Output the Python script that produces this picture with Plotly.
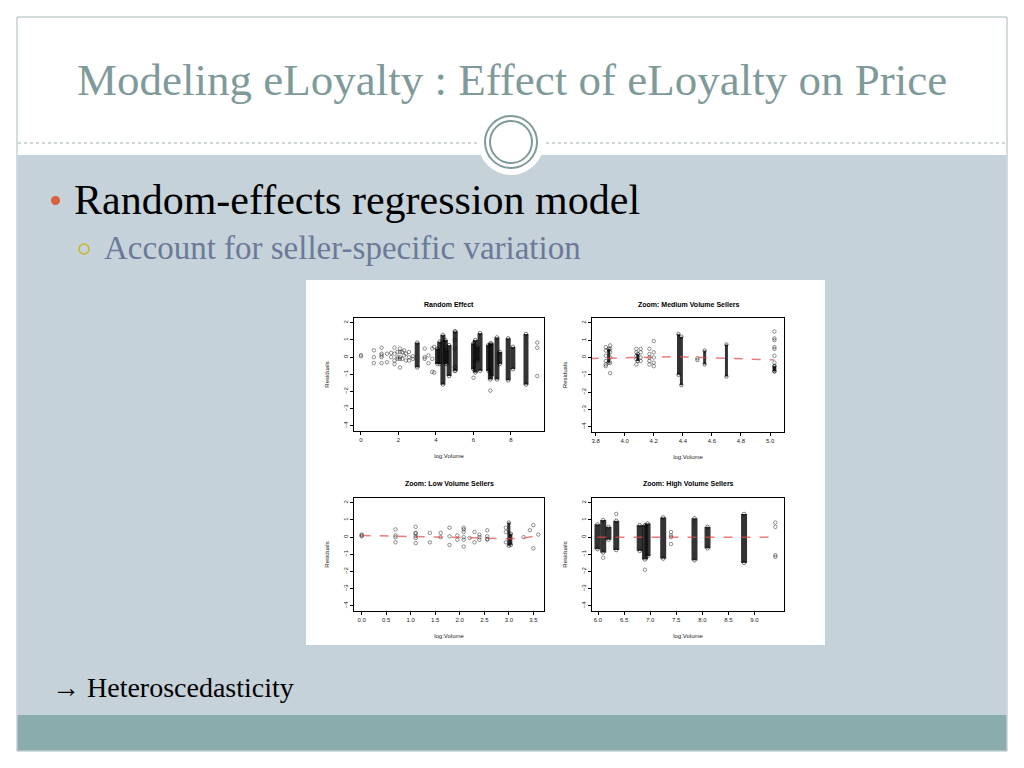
import plotly.graph_objects as go

# page body has an 8px margin; the figure covers the rest of the 1024x768 window
OFF = 8
W, H = 1024 - OFF, 768 - OFF

# ---------------- data ----------------
# Panel 1: Random Effect (all sellers)
p1_pts_x = [0.0, 0.0, 0.69, 0.69, 0.69, 1.1, 1.1, 1.1, 1.1, 1.1, 1.39, 1.39, 1.61, 1.61,
            1.79, 1.79, 1.79, 1.79, 1.95, 1.95, 1.95, 2.08, 2.08, 2.08, 2.08, 2.08,
            2.2, 2.2, 2.3, 2.3, 2.4, 2.4, 2.56, 2.56, 2.56, 2.77, 2.77, 3.4, 3.4, 3.4,
            3.6, 3.6, 3.8, 3.8, 3.8, 3.9, 3.9, 5.0, 5.0, 5.0, 5.0, 5.0, 6.0, 6.9,
            9.4, 9.4, 9.4]
p1_pts_y = [0.05, 0.12, 0.4, 0.0, -0.35, 0.55, 0.2, 0.1, 0.0, -0.35, 0.2, -0.3, 0.25, 0.0,
            0.55, 0.2, -0.2, -0.4, 0.3, 0.0, -0.1, 0.5, 0.3, 0.0, -0.1, -0.6,
            0.3, -0.1, 0.4, 0.1, 0.2, -0.2, 0.3, 0.0, -0.2, 0.05, -0.1, 0.5, 0.0, -0.1,
            0.1, -0.35, 0.5, -0.1, -0.85, 0.6, -0.9, 1.5, 1.0, 0.5, -0.6, -0.8, -1.2, -1.95,
            0.85, 0.55, -1.1]
p1_strip_x = [3.0, 4.08, 4.2, 4.37, 4.5, 4.55, 4.7, 5.03, 6.0, 6.1, 6.2, 6.35, 6.8, 6.9, 6.95,
              7.25, 7.4, 7.85, 8.1, 8.8]
p1_strip_lo = [-0.6, -0.4, -0.4, -1.6, -0.3, -0.4, -1.1, -0.8, -0.7, -0.9, -0.2, -0.8, -0.8,
               -1.3, -1.1, -1.3, -0.4, -1.35, -0.7, -1.6]
p1_strip_hi = [0.85, 0.5, 0.9, 1.3, 1.0, 0.4, 0.7, 1.5, 0.8, 1.0, 0.6, 1.4, 0.7, 0.8, 0.8,
               1.15, 0.3, 1.1, 0.6, 1.35]

# Panel 2: Zoom: Medium Volume Sellers
p2_pts_x = [3.76, 3.76, 3.76, 3.76, 3.76, 3.76, 3.76, 3.87, 3.87, 3.87, 3.87, 3.87, 3.87,
            3.9, 3.9, 3.9, 3.9, 3.9, 3.9, 4.08, 4.08, 4.08, 4.08, 4.08, 4.11, 4.11, 4.11,
            4.11, 4.17, 4.17, 4.17, 4.17, 4.17, 4.2, 4.2, 4.2, 4.2, 4.2, 4.5, 4.5,
            5.03, 5.03, 5.03, 5.03, 5.03, 5.03, 5.03, 5.03, 5.03, 5.03, 5.03]
p2_pts_y = [0.6, 0.4, 0.3, -0.2, -0.25, -0.6, -0.85, 0.6, 0.4, 0.1, -0.2, -0.4, -0.5,
            0.7, 0.5, 0.3, 0.0, -0.3, -0.9, 0.5, 0.3, 0.1, -0.1, -0.4, 0.5, 0.3, 0.0,
            -0.2, 0.5, 0.2, 0.0, -0.2, -0.4, 0.95, 0.3, 0.0, -0.3, -0.5, -0.05, -0.15,
            1.5, 1.1, 1.0, 0.6, 0.5, 0.1, -0.3, -0.5, -0.6, -0.7, -0.8]
p2_strip_x = [3.76, 3.89, 4.09, 4.37, 4.39, 4.55, 4.7, 5.03]
p2_strip_lo = [-0.3, -0.3, -0.2, -1.0, -1.6, -0.4, -1.1, -0.8]
p2_strip_hi = [0.45, 0.5, 0.2, 1.35, 1.2, 0.4, 0.75, -0.5]
p2_fit_x = [3.76, 3.9, 4.1, 4.2, 4.38, 4.55, 4.7, 4.85, 5.03]
p2_fit_y = [-0.06, -0.03, 0.0, 0.02, 0.05, 0.0, -0.04, -0.08, -0.14]

# Panel 3: Zoom: Low Volume Sellers
p3_pts_x = [0.0, 0.0, 0.0, 0.69, 0.69, 0.69, 0.69, 1.1, 1.1, 1.1, 1.1, 1.1, 1.1, 1.39, 1.39,
            1.61, 1.61, 1.79, 1.79, 1.79, 1.95, 1.95, 2.08, 2.08, 2.08, 2.08, 2.08, 2.08,
            2.2, 2.3, 2.3, 2.4, 2.4, 2.4, 2.56, 2.56, 2.56, 2.56, 2.94, 2.94, 2.94,
            3.3, 3.43, 3.5, 3.5, 3.6]
p3_pts_y = [0.15, 0.1, 0.05, 0.45, 0.1, 0.0, -0.3, 0.6, 0.25, 0.2, 0.05, -0.05, -0.35, 0.25, -0.3,
            0.25, 0.0, 0.55, 0.05, -0.45, 0.1, -0.15, 0.55, 0.45, 0.3, 0.0, -0.15, -0.55,
            -0.05, 0.3, -0.3, 0.15, 0.0, -0.15, 0.4, 0.05, -0.1, -0.15, 0.55, 0.3, -0.3,
            0.0, 0.4, 0.7, -0.65, 0.15]
p3_strip_x = [3.0, 3.04]
p3_strip_lo = [-0.5, -0.45]
p3_strip_hi = [0.85, 0.2]
p3_fit_x = [0.0, 1.0, 1.8, 2.5, 3.0, 3.3, 3.6]
p3_fit_y = [0.1, 0.05, 0.0, -0.05, -0.1, -0.05, 0.1]

# Panel 4: Zoom: High Volume Sellers
p4_pts_x = [6.1, 6.35, 6.9, 7.4, 7.4, 7.4, 7.4, 9.4, 9.4, 9.4, 9.4]
p4_pts_y = [-1.2, 1.35, -1.9, 0.3, 0.1, 0.0, -0.4, 0.85, 0.6, -1.05, -1.15]
p4_strip_x = [5.99, 6.1, 6.2, 6.35, 6.8, 6.9, 6.95, 7.25, 7.85, 8.1, 8.8]
p4_strip_lo = [-0.7, -0.9, -0.15, -0.75, -0.8, -1.3, -1.1, -1.25, -1.35, -0.65, -1.5]
p4_strip_hi = [0.75, 1.0, 0.6, 0.95, 0.7, 0.7, 0.8, 1.15, 1.1, 0.6, 1.35]
p4_fit_x = [5.99, 7.0, 8.0, 9.4]
p4_fit_y = [0.0, 0.0, 0.0, 0.0]

panel_titles = ["Random Effect", "Zoom: Medium Volume Sellers",
                "Zoom: Low Volume Sellers", "Zoom: High Volume Sellers"]
y_ticks = [-4, -3, -2, -1, 0, 1, 2]
x_ticks = [[0, 2, 4, 6, 8],
           [3.8, 4.0, 4.2, 4.4, 4.6, 4.8, 5.0],
           [0.0, 0.5, 1.0, 1.5, 2.0, 2.5, 3.0, 3.5],
           [6.0, 6.5, 7.0, 7.5, 8.0, 8.5, 9.0]]

slide_title = "Modeling eLoyalty : Effect of eLoyalty on Price"
bullet1 = "Random-effects regression model"
bullet2 = "Account for seller-specific variation"
note = "\u2192 Heteroscedasticity"

# ---------------- helpers (window pixels -> paper fraction) ----------------
def fx(x):
    return (x - OFF) / W

def fy(y):
    return 1 - (y - OFF) / H

# panel boxes in window pixels: (left, right, top, bottom) and axis ranges
boxes = [(354, 544, 318, 431), (592, 784, 318, 432), (354, 544, 498, 611), (592, 784, 498, 611)]
xranges = [[-0.37, 9.76], [3.775, 5.096], [-0.157, 3.717], [5.885, 9.566]]
yrange = [-4.3, 2.28]
xfmt = ["", ".1f", ".1f", ".1f"]

fig = go.Figure()

panels = [
    (p1_pts_x, p1_pts_y, p1_strip_x, p1_strip_lo, p1_strip_hi, None, None, 5),
    (p2_pts_x, p2_pts_y, p2_strip_x, p2_strip_lo, p2_strip_hi, p2_fit_x, p2_fit_y, 3),
    (p3_pts_x, p3_pts_y, p3_strip_x, p3_strip_lo, p3_strip_hi, p3_fit_x, p3_fit_y, 3),
    (p4_pts_x, p4_pts_y, p4_strip_x, p4_strip_lo, p4_strip_hi, p4_fit_x, p4_fit_y, 6),
]

for i, (px_, py_, sx, slo, shi, fxs, fys, sw) in enumerate(panels):
    n = i + 1
    xa = "x" if n == 1 else f"x{n}"
    ya = "y" if n == 1 else f"y{n}"
    lx, ly, ex, ey = [], [], [], []
    for x, lo, hi in zip(sx, slo, shi):
        lx += [x, x, None]
        ly += [lo, hi, None]
        ex += [x, x]
        ey += [lo, hi]
    fig.add_trace(go.Scatter(x=lx, y=ly, mode="lines", xaxis=xa, yaxis=ya,
                             line=dict(color="rgba(15,15,15,0.85)", width=sw),
                             hoverinfo="skip", showlegend=False))
    fig.add_trace(go.Scatter(x=ex, y=ey, mode="markers", xaxis=xa, yaxis=ya,
                             marker=dict(symbol="circle-open", size=3.5, color="rgba(0,0,0,0.5)",
                                         line=dict(width=1)),
                             hoverinfo="skip", showlegend=False))
    fig.add_trace(go.Scatter(x=px_, y=py_, mode="markers", xaxis=xa, yaxis=ya,
                             marker=dict(symbol="circle-open", size=3.5, color="rgba(0,0,0,0.42)",
                                         line=dict(width=1)),
                             hoverinfo="skip", showlegend=False))
    if fxs is not None:
        fig.add_trace(go.Scatter(x=fxs, y=fys, mode="lines", xaxis=xa, yaxis=ya,
                                 line=dict(color="rgba(230,70,70,0.7)", width=1.5, dash="dash"),
                                 hoverinfo="skip", showlegend=False))

    l, r, t, b = boxes[i]
    axfont = dict(family="Liberation Sans, Arial, sans-serif", size=6, color="#222")
    xkey = "xaxis" if n == 1 else f"xaxis{n}"
    ykey = "yaxis" if n == 1 else f"yaxis{n}"
    fig.layout[xkey] = dict(domain=[fx(l), fx(r)], range=xranges[i], anchor=ya,
                            showgrid=False, zeroline=False, showline=True, mirror=True,
                            linecolor="black", linewidth=1, ticks="outside", ticklen=3,
                            tickcolor="black", tickvals=x_ticks[i], tickformat=xfmt[i],
                            tickfont=axfont,
                            title=dict(text="log.Volume", font=axfont, standoff=11))
    fig.layout[ykey] = dict(domain=[fy(b), fy(t)], range=yrange, anchor=xa,
                            showgrid=False, zeroline=False, showline=True, mirror=True,
                            linecolor="black", linewidth=1, ticks="outside", ticklen=3,
                            tickcolor="black", tickvals=y_ticks, tickangle=-90,
                            tickfont=axfont,
                            title=dict(text="Residuals", font=axfont, standoff=12))

P = dict(xref="paper", yref="paper", layer="below")
shapes = [
    dict(type="rect", x0=fx(17), x1=fx(1007), y0=fy(751), y1=fy(17),
         line=dict(color="#A9BABB", width=1), fillcolor="white", **P),
    dict(type="rect", x0=fx(17.5), x1=fx(1006.5), y0=fy(715), y1=fy(155),
         line=dict(width=0), fillcolor="#C6D2D9", **P),
    dict(type="rect", x0=fx(17.5), x1=fx(1006.5), y0=fy(750.5), y1=fy(715),
         line=dict(width=0), fillcolor="#8AACAC", **P),
    dict(type="line", x0=fx(18), x1=fx(1006), y0=fy(143), y1=fy(143),
         line=dict(color="#9FB0B2", width=1, dash="dot"), **P),
    dict(type="circle", x0=fx(511 - 33), x1=fx(511 + 33), y0=fy(142 + 33), y1=fy(142 - 33),
         line=dict(width=0), fillcolor="white", **P),
    dict(type="circle", x0=fx(511 - 26), x1=fx(511 + 26), y0=fy(142 + 26), y1=fy(142 - 26),
         line=dict(color="#7F9A9A", width=2), fillcolor="rgba(0,0,0,0)", **P),
    dict(type="circle", x0=fx(511 - 21), x1=fx(511 + 21), y0=fy(142 + 21), y1=fy(142 - 21),
         line=dict(color="#7F9A9A", width=2), fillcolor="rgba(0,0,0,0)", **P),
    dict(type="rect", x0=fx(306), x1=fx(825), y0=fy(645), y1=fy(280),
         line=dict(width=0), fillcolor="white", **P),
    dict(type="circle", x0=fx(51), x1=fx(60), y0=fy(205), y1=fy(196),
         line=dict(width=0), fillcolor="#D9603B", **P),
    dict(type="circle", x0=fx(79), x1=fx(89), y0=fy(254), y1=fy(244),
         line=dict(color="#C8B62A", width=1.5), fillcolor="rgba(0,0,0,0)", **P),
]

serif = "Georgia, 'Liberation Serif', 'DejaVu Serif', serif"
A = dict(xref="paper", yref="paper", showarrow=False, yanchor="middle")
annotations = [
    dict(text=slide_title, x=fx(512), y=fy(80), xanchor="center",
         font=dict(family=serif, size=45, color="#7F9A9A"), **A),
    dict(text=bullet1, x=fx(72), y=fy(200), xanchor="left",
         font=dict(family=serif, size=42, color="black"), **A),
    dict(text=bullet2, x=fx(102), y=fy(248), xanchor="left",
         font=dict(family=serif, size=33, color="#6B7A99"), **A),
    dict(text=note, x=fx(50), y=fy(687), xanchor="left",
         font=dict(family=serif, size=28, color="black"), **A),
]
title_y = [304, 304, 484, 484]
for i, t in enumerate(panel_titles):
    l, r, tp, b = boxes[i]
    annotations.append(dict(text="<b>" + t + "</b>", x=fx((l + r) / 2), y=fy(title_y[i]),
                            xanchor="center",
                            font=dict(family="Liberation Sans, Arial, sans-serif", size=7,
                                      color="black"), **A))

fig.update_layout(width=W, height=H, margin=dict(l=0, r=0, t=0, b=0),
                  paper_bgcolor="white", plot_bgcolor="rgba(0,0,0,0)",
                  shapes=shapes, annotations=annotations, showlegend=False)

fig.write_html("out.html", config={"displayModeBar": False})
